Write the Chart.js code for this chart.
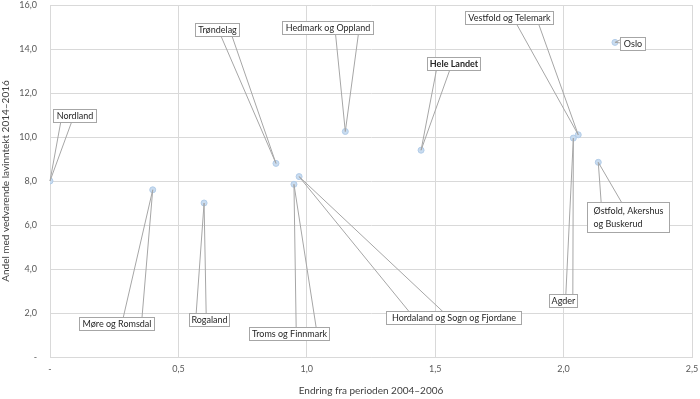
<!DOCTYPE html>
<html><head><meta charset="utf-8">
<script src="https://cdn.jsdelivr.net/npm/chart.js@4/dist/chart.umd.min.js"></script>
<style>html,body{margin:0;padding:0;background:#fff}#wrap{width:700px;height:399px}</style>
</head><body><div id="wrap"><canvas id="c" width="700" height="399"></canvas></div>
<script>
// ---- data ----
const regions = ['Nordland','Møre og Romsdal','Trøndelag','Hedmark og Oppland','Rogaland','Troms og Finnmark','Hordaland og Sogn og Fjordane','Hele Landet','Vestfold og Telemark','Agder','Østfold, Akershus og Buskerud','Oslo'];
const changeValues = [0.00,0.40,0.88,1.15,0.60,0.95,0.97,1.445,2.057,2.038,2.135,2.20];
const shareValues  = [8.0,7.6,8.8,10.25,7.0,7.85,8.2,9.4,10.1,9.95,8.85,14.3];
const xTickLabels = ['-','0,5','1,0','1,5','2,0','2,5'];
const yTickLabels = ['-','2,0','4,0','6,0','8,0','10,0','12,0','14,0','16,0'];
const xTitle = 'Endring fra perioden 2004–2006';
const yTitle = 'Andel med vedvarende lavinntekt 2014–2016';

// ---- callout layout (box centre in axis units, box width in px, text lines) ----
const calloutX = [0.097,0.26,0.650,1.079,0.619,0.930,1.573,1.573,1.787,1.998,2.249,2.268];
const calloutY = [11.0,1.53,14.87,14.99,1.69,1.08,1.78,13.33,15.45,2.58,6.36,14.23];
const calloutW = [43,75,44,91,40,80,135,53,88,28,82,25];
const calloutLines = [['Nordland'],['Møre og Romsdal'],['Trøndelag'],['Hedmark og Oppland'],['Rogaland'],['Troms og Finnmark'],['Hordaland og Sogn og Fjordane'],['Hele Landet'],['Vestfold og Telemark'],['Agder'],['Østfold, Akershus','og Buskerud'],['Oslo']];
const calloutBold = [false,false,false,false,false,false,false,true,false,false,false,false];

const FONT = 'Lato, "Open Sans", sans-serif';

const calloutPlugin = {
  id: 'callouts',
  afterDatasetsDraw(chart) {
    const {ctx, scales: {x, y}} = chart;
    const meta = chart.getDatasetMeta(0);
    ctx.save();
    regions.forEach((name, i) => {
      const pt = meta.data[i];
      const tx = pt.x, ty = pt.y;
      const cx = x.getPixelForValue(calloutX[i]);
      const cy = y.getPixelForValue(calloutY[i]);
      const lines = calloutLines[i];
      const w = calloutW[i];
      const h = lines.length === 1 ? 13 : 30;
      const l = Math.round(cx - w / 2) + 0.5, t = Math.round(cy - h / 2) + 0.5;
      const ccx = l + w / 2, ccy = t + h / 2;
      const dxPos = tx - ccx, dyPos = ty - ccy;
      const dx = dxPos * h / w;
      let p1, p2;
      if (Math.abs(dx) > Math.abs(dyPos)) {
        const g1 = dyPos > 0 ? 7 : 2, g2 = dyPos > 0 ? 10 : 5;
        const ex = dxPos > 0 ? l + w : l;
        p1 = [ex, t + h * g1 / 12]; p2 = [ex, t + h * g2 / 12];
      } else {
        const g1 = dxPos > 0 ? 7 : 2, g2 = dxPos > 0 ? 10 : 5;
        const ey = dyPos > 0 ? t + h : t;
        p1 = [l + w * g1 / 12, ey]; p2 = [l + w * g2 / 12, ey];
      }
      ctx.strokeStyle = '#a6a6a6';
      ctx.lineWidth = 1;
      ctx.beginPath();
      ctx.moveTo(p1[0], p1[1]); ctx.lineTo(tx, ty); ctx.lineTo(p2[0], p2[1]);
      ctx.stroke();
      ctx.fillStyle = '#ffffff';
      ctx.fillRect(l, t, w, h);
      ctx.strokeRect(l, t, w, h);
      ctx.fillStyle = '#262626';
      ctx.font = (calloutBold[i] ? 'bold ' : '') + '9px ' + FONT;
      ctx.textBaseline = 'middle';
      if (lines.length === 1) {
        ctx.textAlign = 'center';
        ctx.fillText(lines[0], ccx, ccy + 0.5);
      } else {
        ctx.textAlign = 'left';
        lines.forEach((s, k) => ctx.fillText(s, l + 6, t + 8.5 + k * 13));
      }
    });
    ctx.restore();
  }
};

new Chart(document.getElementById('c'), {
  type: 'scatter',
  data: {
    datasets: [{
      label: 'Regioner',
      data: changeValues.map((v, i) => ({x: v, y: shareValues[i]})),
      backgroundColor: '#c9dcf0',
      borderColor: '#b2cce8',
      borderWidth: 1,
      pointRadius: 3
    }]
  },
  options: {
    responsive: false,
    animation: false,
    devicePixelRatio: 1,
    layout: {padding: {top: 5, right: 8, bottom: 0, left: 0}},
    plugins: {legend: {display: false}, tooltip: {enabled: false}},
    scales: {
      x: {
        type: 'linear', min: 0, max: 2.5,
        ticks: {stepSize: 0.5, callback: (v, i) => xTickLabels[i], color: '#595959', font: {family: FONT, size: 9}, padding: 7, maxRotation: 0},
        grid: {color: '#d9d9d9', drawTicks: false},
        border: {color: '#d9d9d9'},
        title: {display: true, text: xTitle, color: '#404040', font: {family: FONT, size: 10}, padding: {top: 0, bottom: 2}},
        afterFit(s) { s.height = 42; s.paddingLeft = 0; s.paddingRight = 0; }
      },
      y: {
        type: 'linear', min: 0, max: 16,
        ticks: {stepSize: 2, callback: (v, i) => yTickLabels[i], color: '#595959', font: {family: FONT, size: 9}, padding: 13},
        grid: {color: '#d9d9d9', drawTicks: false},
        border: {color: '#d9d9d9'},
        title: {display: true, text: yTitle, color: '#404040', font: {family: FONT, size: 10}, padding: {top: 0, bottom: 0}},
        afterFit(s) { s.width = 50; s.paddingTop = 0; s.paddingBottom = 0; }
      }
    }
  },
  plugins: [calloutPlugin]
});
</script>
</body></html>
